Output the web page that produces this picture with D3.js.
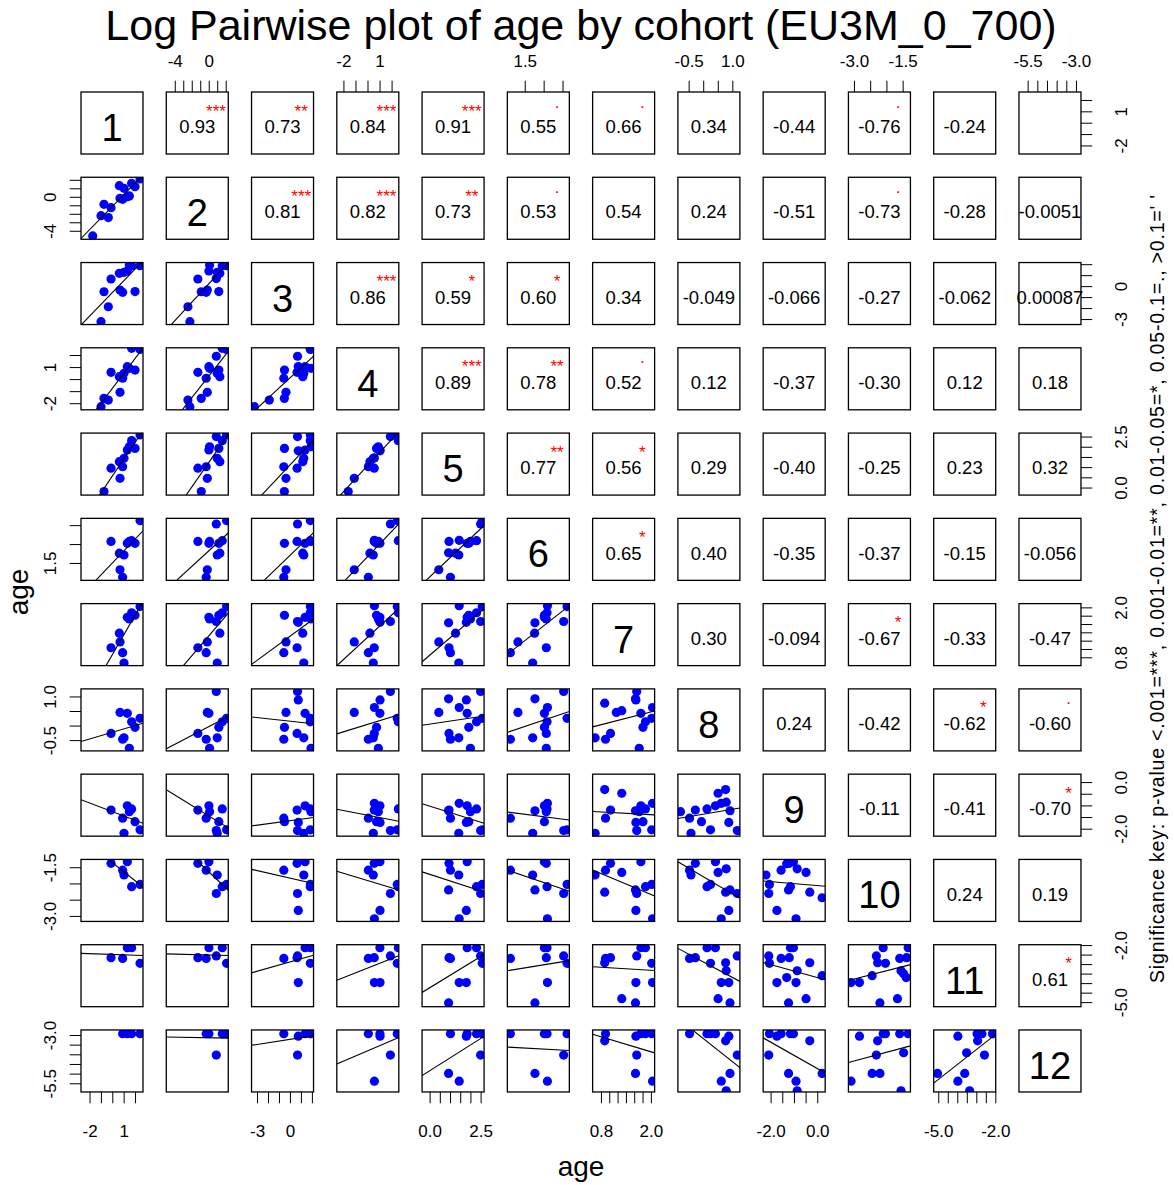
<!DOCTYPE html>
<html>
<head>
<meta charset="utf-8">
<script src="https://cdn.jsdelivr.net/npm/d3@7/dist/d3.min.js"></script>
<style>
  body { margin: 0; background: #fff; }
  text { font-family: "Liberation Sans", Arial, sans-serif; }
</style>
</head>
<body>
<script>
// pairs plot of log age, one variable per cohort

var chartTitle = 'Log Pairwise plot of age by cohort (EU3M_0_700)';
var axisTitle = 'age';
var sigKey = "Significance key: p-value <.001=***, 0.001-0.01=**, 0.01-0.05=*, 0.05-0.1=., >0.1=' '";

var cohorts = ['1', '2', '3', '4', '5', '6', '7', '8', '9', '10', '11', '12'];

// axis limits of each cohort
var limits = [
  [-2.75, 2.7], [-5.0, 2.3], [-3.5, 2.15], [-2.55, 2.6], [-0.37, 2.67], [1.04, 2.68],
  [0.6, 2.09], [-0.87, 1.26], [-2.32, 0.34], [-3.17, -1.26], [-5.24, -1.98], [-5.95, -2.74]
];

var tickVals = [
  [-2, -1, 0, 1, 2],
  [-4, -3, -2, -1, 0, 1, 2],
  [-3, -2, -1, 0, 1, 2],
  [-2, -1, 0, 1, 2],
  [0, 0.5, 1, 1.5, 2, 2.5],
  [1.5, 2, 2.5],
  [0.8, 1, 1.2, 1.4, 1.6, 1.8, 2],
  [-0.5, 0, 0.5, 1],
  [-2, -1.5, -1, -0.5, 0],
  [-3, -2.5, -2, -1.5],
  [-5, -4.5, -4, -3.5, -3, -2.5, -2],
  [-5.5, -5, -4.5, -4, -3.5, -3]
];

var tickLabels = [
  ['-2', '', '', '1', ''],
  ['-4', '', '', '', '0', '', ''],
  ['-3', '', '', '0', '', ''],
  ['-2', '', '', '1', ''],
  ['0.0', '', '', '', '', '2.5'],
  ['1.5', '', ''],
  ['0.8', '', '', '', '', '', '2.0'],
  ['-0.5', '', '', '1.0'],
  ['-2.0', '', '', '', '0.0'],
  ['-3.0', '', '', '-1.5'],
  ['-5.0', '', '', '', '', '', '-2.0'],
  ['-5.5', '', '', '', '', '-3.0']
];

// log age per cohort, one entry per unit (null = not observed)
var age1 = [-1.72, -0.99, -0.73, -0.35, -0.11, 0.62, 0.68, 0.91, 1.03, 1.32, 1.50, 1.70, 2.00, 2.44,
  null, null, null, null, null, null, null, null, null, null];
var age2 = [-4.61, -2.22, -0.88, -2.45, -1.28, 1.31, -0.17, -0.30, 1.00, 0.02, 0.10, 1.59, 1.19, 2.10,
  0.89, null, null, null, null, null, null, null, null, null];
var age3 = [null, -3.24, -0.51, -1.88, 0.65, 1.17, -0.36, -0.56, 1.26, 1.38, 1.92, 1.85, -0.50, 1.86,
  0.69, null, null, null, null, null, null, 0.76, null, null];
var age4 = [null, -2.29, -1.60, -1.74, 0.56, 0.20, -1.10, 0.07, 0.48, 1.03, 0.90, 2.56, 0.75, 2.47,
  1.90, null, 0.57, null, null, null, null, 1.04, null, null];
var age5 = [null, null, -0.20, null, 0.95, 1.27, 0.45, 1.02, 1.43, 1.84, 2.00, 2.30, 1.92, 2.58,
  2.50, 0.93, 1.45, null, null, null, null, 1.80, null, null];
var age6 = [null, null, null, null, 2.07, 1.76, 1.32, 1.12, 1.71, 2.02, 2.07, 2.09, 2.02, 2.62,
  2.53, 1.77, 2.10, null, null, null, null, null, null, null];
var age7 = [null, null, null, null, 1.03, 1.38, 1.17, 0.91, 0.66, 1.76, 1.72, 1.87, 1.81, 2.02,
  1.66, 1.63, 2.04, null, null, 1.30, 0.89, 1.64, null, null];
var age8 = [null, null, null, null, -0.27, null, 0.45, -0.47, -0.42, 0.42, -0.78, 0.13, -0.06, 0.25,
  1.17, 0.92, 0.62, 0.79, null, 0.51, 0.77, 0.88, null, null];
var age9 = [null, null, null, null, -1.20, null, null, -1.55, -2.20, -1.02, -1.27, -1.15, -1.70, -2.05,
  -2.08, -1.23, -0.91, -0.86, 0.21, -0.48, -0.32, -1.73, -1.31, null];
var age10 = [null, null, null, null, -1.38, null, null, -1.59, -1.74, -1.33, null, -2.10, null, -2.03,
  -2.31, -2.20, -3.09, -1.55, -2.44, -1.66, -2.27, -2.83, -1.39, -1.47];
var age11 = [null, null, null, null, -2.66, null, null, -2.70, null, -2.14, null, -2.14, null, -2.96,
  -2.57, -5.04, -3.97, -3.35, -3.61, -4.82, -2.93, -3.97, -3.71, -3.51];
var age12 = [null, null, null, null, null, null, null, -2.93, null, -2.93, null, -2.93, null, -2.93,
  -4.04, -4.99, -5.39, -5.89, -4.99, null, -3.30, -3.06, null, -3.92];

var ages = [age1, age2, age3, age4, age5, age6, age7, age8, age9, age10, age11, age12];

// correlations printed in the upper panels, row i holds columns i+1..12
var corrRows = [
  ['0.93', '0.73', '0.84', '0.91', '0.55', '0.66', '0.34', '-0.44', '-0.76', '-0.24', ''],
  ['0.81', '0.82', '0.73', '0.53', '0.54', '0.24', '-0.51', '-0.73', '-0.28', '-0.0051'],
  ['0.86', '0.59', '0.60', '0.34', '-0.049', '-0.066', '-0.27', '-0.062', '0.00087'],
  ['0.89', '0.78', '0.52', '0.12', '-0.37', '-0.30', '0.12', '0.18'],
  ['0.77', '0.56', '0.29', '-0.40', '-0.25', '0.23', '0.32'],
  ['0.65', '0.40', '-0.35', '-0.37', '-0.15', '-0.056'],
  ['0.30', '-0.094', '-0.67', '-0.33', '-0.47'],
  ['0.24', '-0.42', '-0.62', '-0.60'],
  ['-0.11', '-0.41', '-0.70'],
  ['0.24', '0.19'],
  ['0.61']
];
var starRows = [
  ['***', '**', '***', '***', '.', '.', '', '', '.', '', ''],
  ['***', '***', '**', '.', '', '', '', '.', '', ''],
  ['***', '*', '*', '', '', '', '', '', ''],
  ['***', '**', '.', '', '', '', '', ''],
  ['**', '*', '', '', '', '', ''],
  ['*', '', '', '', '', ''],
  ['', '', '*', '', ''],
  ['', '', '*', '.'],
  ['', '', '*'],
  ['', ''],
  ['*']
];

var W = 1174, H = 1185;
var S = 62, STEP = 85.27, LEFT = 81, TOP = 92;
var nVar = cohorts.length;
var font = '"Liberation Sans", Arial, sans-serif';

var svg = d3.select('body').append('svg')
  .attr('width', W)
  .attr('height', H);

var px = function(j) { return LEFT + j * STEP; };
var py = function(i) { return TOP + i * STEP; };

var xScale = function(j) {
  return d3.scaleLinear().domain(limits[j]).range([0, S]);
};
var yScale = function(i) {
  return d3.scaleLinear().domain(limits[i]).range([S, 0]);
};

var fit = function(xs, ys) {
  var n = xs.length;
  if (n < 2) return null;
  var mx = d3.mean(xs), my = d3.mean(ys);
  var sxx = 0, sxy = 0;
  for (var k = 0; k < n; k++) {
    sxx += (xs[k] - mx) * (xs[k] - mx);
    sxy += (xs[k] - mx) * (ys[k] - my);
  }
  if (sxx === 0) return null;
  var b = sxy / sxx;
  return [my - b * mx, b];
};

var defs = svg.append('defs');
defs.append('clipPath').attr('id', 'panelClip')
  .append('rect').attr('x', 0).attr('y', 0).attr('width', S).attr('height', S);

for (var i = 0; i < nVar; i++) {
  for (var j = 0; j < nVar; j++) {
    var g = svg.append('g').attr('transform', 'translate(' + px(j) + ',' + py(i) + ')');

    if (i === j) {
      g.append('text')
        .attr('x', S / 2).attr('y', 49)
        .attr('text-anchor', 'middle')
        .style('font-size', '38px')
        .text(cohorts[i]);
    } else if (i < j) {
      var r = corrRows[i][j - i - 1];
      var st = starRows[i][j - i - 1];
      g.append('text')
        .attr('x', S / 2).attr('y', 41.2)
        .attr('text-anchor', 'middle')
        .style('font-size', '18.5px')
        .text(r);
      if (st) {
        g.append('text')
          .attr('x', 49.7).attr('y', st === '.' ? 15.5 : 24.5)
          .attr('text-anchor', 'middle')
          .attr('fill', '#FF0000')
          .style('font-size', '17px')
          .text(st);
      }
    } else {
      var x = xScale(j), y = yScale(i);
      var pts = [];
      ages[j].forEach(function(v, k) {
        var w = ages[i][k];
        if (v !== null && w !== null) pts.push([v, w]);
      });
      var inner = g.append('g').attr('clip-path', 'url(#panelClip)');
      inner.selectAll('circle')
        .data(pts)
        .enter()
        .append('circle')
        .attr('cx', function(d) { return x(d[0]); })
        .attr('cy', function(d) { return y(d[1]); })
        .attr('r', 4.6)
        .attr('fill', '#0000FF');
      var coef = corrRows[j][i - j - 1] === '' ? null :
        fit(pts.map(function(d) { return d[0]; }), pts.map(function(d) { return d[1]; }));
      if (coef) {
        var x0 = limits[j][0], x1 = limits[j][1];
        inner.append('line')
          .attr('x1', x(x0)).attr('y1', y(coef[0] + coef[1] * x0))
          .attr('x2', x(x1)).attr('y2', y(coef[0] + coef[1] * x1))
          .attr('stroke', '#000')
          .attr('stroke-width', 1.1);
      }
    }

    g.append('rect')
      .attr('width', S).attr('height', S)
      .attr('fill', 'none')
      .attr('stroke', '#000')
      .attr('stroke-width', 1.3);
  }
}

// outer axes, alternating sides like R's pairs()
var styleAxis = function(ax) {
  ax.select('.domain').remove();
  ax.attr('font-family', font).attr('font-size', 17);
  ax.selectAll('.tick line').attr('stroke-width', 1);
};

var bottomY = py(nVar - 1) + S;
var rightX = px(nVar - 1) + S;

for (var k = 0; k < nVar; k++) {
  var fmt = (function(k) { return function(d, n) { return tickLabels[k][n]; }; })(k);
  if (k % 2 === 1) {
    svg.append('g')
      .attr('transform', 'translate(' + px(k) + ',' + TOP + ')')
      .call(d3.axisTop(xScale(k)).tickValues(tickVals[k]).tickFormat(fmt)
        .tickSize(11.3).tickPadding(13.7).tickSizeOuter(0))
      .call(styleAxis);
    svg.append('g')
      .attr('transform', 'translate(' + LEFT + ',' + py(k) + ')')
      .call(d3.axisLeft(yScale(k)).tickValues(tickVals[k]).tickFormat(fmt)
        .tickSize(11.3).tickSizeOuter(0))
      .call(styleAxis)
      .selectAll('.tick text')
      .attr('x', 0).attr('dy', null)
      .attr('text-anchor', 'middle')
      .attr('transform', 'translate(-25,0) rotate(-90)');
  } else {
    svg.append('g')
      .attr('transform', 'translate(' + px(k) + ',' + bottomY + ')')
      .call(d3.axisBottom(xScale(k)).tickValues(tickVals[k]).tickFormat(fmt)
        .tickSize(11.3).tickPadding(21.6).tickSizeOuter(0))
      .call(styleAxis);
    svg.append('g')
      .attr('transform', 'translate(' + rightX + ',' + py(k) + ')')
      .call(d3.axisRight(yScale(k)).tickValues(tickVals[k]).tickFormat(fmt)
        .tickSize(11.3).tickSizeOuter(0))
      .call(styleAxis)
      .selectAll('.tick text')
      .attr('x', 0).attr('dy', null)
      .attr('text-anchor', 'middle')
      .attr('transform', 'translate(45.6,0) rotate(-90)');
  }
}

var midX = LEFT + (nVar - 1) * STEP / 2 + S / 2;
var midY = TOP + (nVar - 1) * STEP / 2 + S / 2;

svg.append('text')
  .attr('x', midX).attr('y', 39.5)
  .attr('text-anchor', 'middle')
  .style('font-size', '43px')
  .text(chartTitle);

svg.append('text')
  .attr('x', midX).attr('y', 1176)
  .attr('text-anchor', 'middle')
  .style('font-size', '28px')
  .text(axisTitle);

svg.append('text')
  .attr('transform', 'translate(28,' + midY + ') rotate(-90)')
  .attr('text-anchor', 'middle')
  .style('font-size', '28px')
  .text(axisTitle);

svg.append('text')
  .attr('transform', 'translate(1164,' + (midY - 3) + ') rotate(-90)')
  .attr('text-anchor', 'middle')
  .attr('textLength', 788)
  .attr('lengthAdjust', 'spacing')
  .style('font-size', '19.5px')
  .text(sigKey);
</script>
</body>
</html>
